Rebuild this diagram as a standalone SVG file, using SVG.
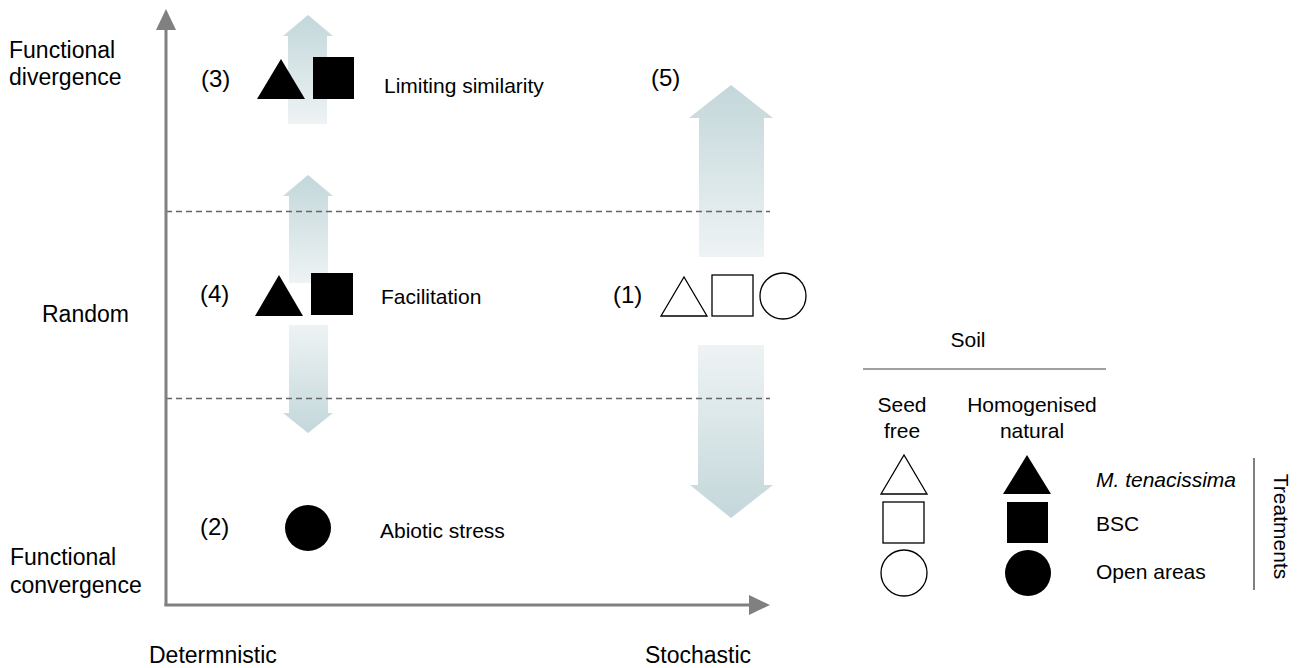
<svg xmlns="http://www.w3.org/2000/svg" width="1301" height="668" viewBox="0 0 1301 668">
<style>
text{font-family:"Liberation Sans",Arial,sans-serif;fill:#000}
.ax{font-size:23px}
.lb{font-size:21px}
.num{font-size:24px}
.axis{stroke:#808080;stroke-width:3;fill:none}
.dash{stroke:#666;stroke-width:1.5;stroke-dasharray:6 4;fill:none}
.open{fill:#fff;stroke:#000;stroke-width:1.3}
.solid{fill:#000}
.up{fill:url(#gUp)}
.down{fill:url(#gDown)}
</style>
<defs>
<linearGradient id="gUp" x1="0" y1="0" x2="0" y2="1">
<stop offset="0" stop-color="#c3d7da"/>
<stop offset="1" stop-color="#eef3f4"/>
</linearGradient>
<linearGradient id="gDown" x1="0" y1="0" x2="0" y2="1">
<stop offset="0" stop-color="#eef3f4"/>
<stop offset="1" stop-color="#c3d7da"/>
</linearGradient>
</defs>
<rect width="1301" height="668" fill="#fff"/>

<g id="connectors">
<path class="up" d="M308,15 L333,36 L327,36 L327,124 L288,124 L288,36 L283,36 Z"/>
<path class="up" d="M308,175 L333,196 L328,196 L328,283 L289,283 L289,196 L283,196 Z"/>
<path class="down" d="M289,325 L328,325 L328,413 L333,413 L308,433 L283,413 L289,413 Z"/>
<path class="up" d="M731,85 L773,118 L764,118 L764,257 L699,257 L699,118 L689,118 Z"/>
<path class="down" d="M698,345 L764,345 L764,485 L773,485 L731,518 L690,485 L698,485 Z"/>
<line class="dash" x1="166" y1="211.5" x2="770" y2="211.5"/>
<line class="dash" x1="166" y1="398.5" x2="770" y2="398.5"/>
</g>

<g id="axes">
<line class="axis" x1="166" y1="606" x2="166" y2="28"/>
<path d="M166,9 L176,30 L156,30 Z" fill="#808080"/>
<line class="axis" x1="164.5" y1="605" x2="751" y2="605"/>
<path d="M770,605 L749,595 L749,615 Z" fill="#808080"/>
<text class="ax" x="9" y="58">Functional</text>
<text class="ax" x="9" y="85">divergence</text>
<text class="ax" x="42" y="322">Random</text>
<text class="ax" x="10" y="565">Functional</text>
<text class="ax" x="10" y="593">convergence</text>
<text class="ax" x="149" y="663">Determnistic</text>
<text class="ax" x="645" y="663">Stochastic</text>
</g>

<g id="node3">
<text class="num" x="201" y="87">(3)</text>
<polygon class="solid" points="257,99 281,59 305,99"/>
<rect class="solid" x="313" y="57" width="41" height="42"/>
<text class="lb" x="384" y="93">Limiting similarity</text>
</g>

<g id="node5">
<text class="num" x="651" y="86">(5)</text>
</g>

<g id="node4">
<text class="num" x="200" y="302">(4)</text>
<polygon class="solid" points="255,316 279,275 303,316"/>
<rect class="solid" x="311" y="273" width="42" height="42"/>
<text class="lb" x="381" y="304">Facilitation</text>
</g>

<g id="node1">
<text class="num" x="613" y="303">(1)</text>
<polygon class="open" points="661,316 684,277 707,316"/>
<rect class="open" x="712" y="275" width="41" height="41"/>
<circle class="open" cx="783" cy="296" r="23"/>
</g>

<g id="node2">
<text class="num" x="200" y="535">(2)</text>
<circle class="solid" cx="308" cy="528" r="23"/>
<text class="lb" x="380" y="538">Abiotic stress</text>
</g>

<g id="legend">
<text class="lb" x="968" y="347" text-anchor="middle">Soil</text>
<line x1="863" y1="369" x2="1106" y2="369" stroke="#808080" stroke-width="1.5"/>
<text class="lb" x="902" y="412" text-anchor="middle">Seed</text>
<text class="lb" x="902" y="438" text-anchor="middle">free</text>
<text class="lb" x="1032" y="412" text-anchor="middle">Homogenised</text>
<text class="lb" x="1032" y="438" text-anchor="middle">natural</text>
<polygon class="open" points="881,494 904,455 927,494"/>
<polygon class="solid" points="1003,494 1027,455 1051,494"/>
<rect class="open" x="883" y="502" width="41" height="41"/>
<rect class="solid" x="1007" y="502" width="41" height="41"/>
<circle class="open" cx="904" cy="573" r="23"/>
<circle class="solid" cx="1028" cy="573" r="23"/>
<text class="lb" x="1096" y="487" font-style="italic">M. tenacissima</text>
<text class="lb" x="1096" y="531">BSC</text>
<text class="lb" x="1096" y="579">Open areas</text>
<line x1="1254" y1="458" x2="1254" y2="590" stroke="#000" stroke-width="1"/>
<text class="lb" transform="translate(1274,526.5) rotate(90)" text-anchor="middle">Treatments</text>
</g>
</svg>
